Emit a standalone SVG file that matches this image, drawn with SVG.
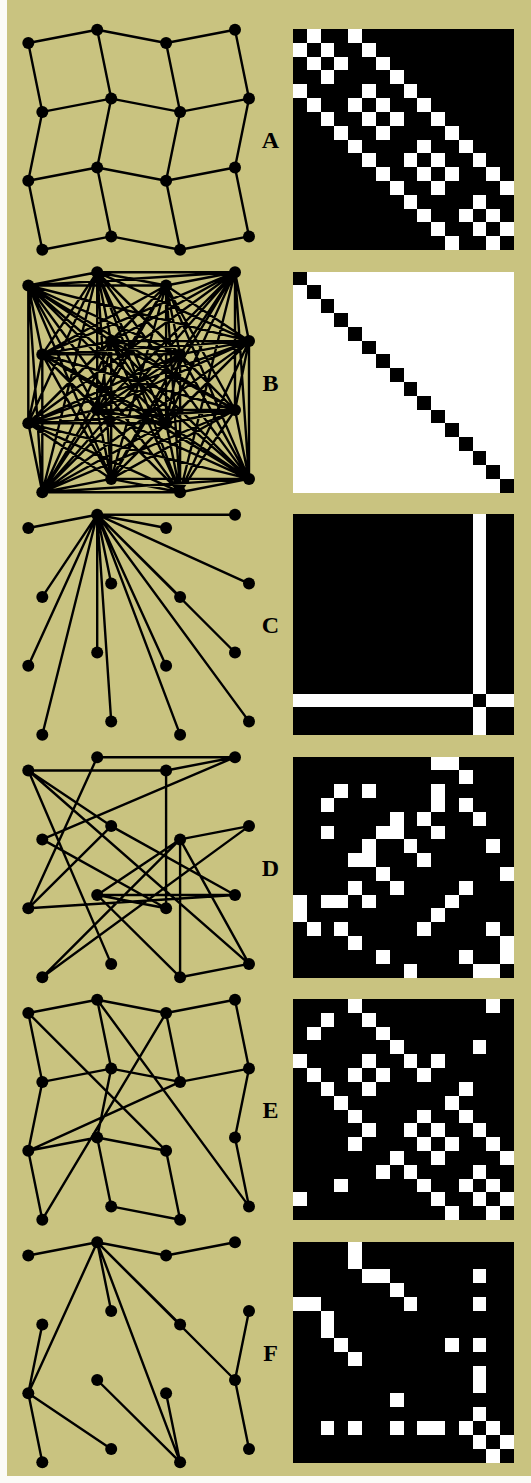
<svg xmlns="http://www.w3.org/2000/svg" width="531" height="1483" viewBox="0 0 531 1483">
  <style>
    .edge { fill: none; stroke: #000; stroke-width: 2.4; stroke-linecap: round; stroke-linejoin: round; }
    .node circle { fill: #000; }
    .label { font-family: "Liberation Serif", "Times New Roman", serif; font-weight: bold; font-size: 24px; fill: #000; text-anchor: middle; }
    .cells rect { shape-rendering: crispEdges; }
  </style>

  <!-- page background with a light margin on the left and bottom -->
  <rect x="0" y="0" width="531" height="1483" fill="#fbfbf7"/>
  <rect x="7" y="0" width="524" height="1476" fill="#c9c380"/>

  <!-- ===== Panel A: 4x4 grid ===== -->
  <g id="panelA">
    <g id="A-edges" class="edge">
      <path d="M28.3,43L97.2,29.7L166.1,43L235,29.7 M42.3,111.9L111.2,98.6L180.1,111.9L249,98.6 M28.3,180.8L97.2,167.5L166.1,180.8L235,167.5 M42.3,249.7L111.2,236.4L180.1,249.7L249,236.4 M28.3,43L42.3,111.9L28.3,180.8L42.3,249.7 M97.2,29.7L111.2,98.6L97.2,167.5L111.2,236.4 M166.1,43L180.1,111.9L166.1,180.8L180.1,249.7 M235,29.7L249,98.6L235,167.5L249,236.4"/>
    </g>
    <g id="A-nodes" class="node">
      <g id="A-n0"><circle cx="28.3" cy="43" r="6"/></g>
      <g id="A-n1"><circle cx="97.2" cy="29.7" r="6"/></g>
      <g id="A-n2"><circle cx="166.1" cy="43" r="6"/></g>
      <g id="A-n3"><circle cx="235" cy="29.7" r="6"/></g>
      <g id="A-n4"><circle cx="42.3" cy="111.9" r="6"/></g>
      <g id="A-n5"><circle cx="111.2" cy="98.6" r="6"/></g>
      <g id="A-n6"><circle cx="180.1" cy="111.9" r="6"/></g>
      <g id="A-n7"><circle cx="249" cy="98.6" r="6"/></g>
      <g id="A-n8"><circle cx="28.3" cy="180.8" r="6"/></g>
      <g id="A-n9"><circle cx="97.2" cy="167.5" r="6"/></g>
      <g id="A-n10"><circle cx="166.1" cy="180.8" r="6"/></g>
      <g id="A-n11"><circle cx="235" cy="167.5" r="6"/></g>
      <g id="A-n12"><circle cx="42.3" cy="249.7" r="6"/></g>
      <g id="A-n13"><circle cx="111.2" cy="236.4" r="6"/></g>
      <g id="A-n14"><circle cx="180.1" cy="249.7" r="6"/></g>
      <g id="A-n15"><circle cx="249" cy="236.4" r="6"/></g>
    </g>
    <text class="label" x="270.5" y="148">A</text>
    <g id="A-matrix" class="cells" transform="translate(293,29) scale(13.8125)">
      <rect width="16" height="16" fill="#000"/>
      <g fill="#fff">
        <rect x="1" y="0" width="1" height="1"/><rect x="4" y="0" width="1" height="1"/>
        <rect x="0" y="1" width="1" height="1"/><rect x="2" y="1" width="1" height="1"/><rect x="5" y="1" width="1" height="1"/>
        <rect x="1" y="2" width="1" height="1"/><rect x="3" y="2" width="1" height="1"/><rect x="6" y="2" width="1" height="1"/>
        <rect x="2" y="3" width="1" height="1"/><rect x="7" y="3" width="1" height="1"/>
        <rect x="0" y="4" width="1" height="1"/><rect x="5" y="4" width="1" height="1"/><rect x="8" y="4" width="1" height="1"/>
        <rect x="1" y="5" width="1" height="1"/><rect x="4" y="5" width="1" height="1"/><rect x="6" y="5" width="1" height="1"/><rect x="9" y="5" width="1" height="1"/>
        <rect x="2" y="6" width="1" height="1"/><rect x="5" y="6" width="1" height="1"/><rect x="7" y="6" width="1" height="1"/><rect x="10" y="6" width="1" height="1"/>
        <rect x="3" y="7" width="1" height="1"/><rect x="6" y="7" width="1" height="1"/><rect x="11" y="7" width="1" height="1"/>
        <rect x="4" y="8" width="1" height="1"/><rect x="9" y="8" width="1" height="1"/><rect x="12" y="8" width="1" height="1"/>
        <rect x="5" y="9" width="1" height="1"/><rect x="8" y="9" width="1" height="1"/><rect x="10" y="9" width="1" height="1"/><rect x="13" y="9" width="1" height="1"/>
        <rect x="6" y="10" width="1" height="1"/><rect x="9" y="10" width="1" height="1"/><rect x="11" y="10" width="1" height="1"/><rect x="14" y="10" width="1" height="1"/>
        <rect x="7" y="11" width="1" height="1"/><rect x="10" y="11" width="1" height="1"/><rect x="15" y="11" width="1" height="1"/>
        <rect x="8" y="12" width="1" height="1"/><rect x="13" y="12" width="1" height="1"/>
        <rect x="9" y="13" width="1" height="1"/><rect x="12" y="13" width="1" height="1"/><rect x="14" y="13" width="1" height="1"/>
        <rect x="10" y="14" width="1" height="1"/><rect x="13" y="14" width="1" height="1"/><rect x="15" y="14" width="1" height="1"/>
        <rect x="11" y="15" width="1" height="1"/><rect x="14" y="15" width="1" height="1"/>
      </g>
    </g>
  </g>

  <!-- ===== Panel B: complete graph ===== -->
  <g id="panelB" transform="translate(0,242.5)">
    <g id="B-edges" class="edge">
      <path d="M28.3,43L97.2,29.7M28.3,43L166.1,43M28.3,43L235,29.7M28.3,43L42.3,111.9M28.3,43L111.2,98.6M28.3,43L180.1,111.9M28.3,43L249,98.6M28.3,43L28.3,180.8M28.3,43L97.2,167.5M28.3,43L166.1,180.8M28.3,43L235,167.5M28.3,43L42.3,249.7M28.3,43L111.2,236.4M28.3,43L180.1,249.7M28.3,43L249,236.4
M97.2,29.7L166.1,43M97.2,29.7L235,29.7M97.2,29.7L42.3,111.9M97.2,29.7L111.2,98.6M97.2,29.7L180.1,111.9M97.2,29.7L249,98.6M97.2,29.7L28.3,180.8M97.2,29.7L97.2,167.5M97.2,29.7L166.1,180.8M97.2,29.7L235,167.5M97.2,29.7L42.3,249.7M97.2,29.7L111.2,236.4M97.2,29.7L180.1,249.7M97.2,29.7L249,236.4
M166.1,43L235,29.7M166.1,43L42.3,111.9M166.1,43L111.2,98.6M166.1,43L180.1,111.9M166.1,43L249,98.6M166.1,43L28.3,180.8M166.1,43L97.2,167.5M166.1,43L166.1,180.8M166.1,43L235,167.5M166.1,43L42.3,249.7M166.1,43L111.2,236.4M166.1,43L180.1,249.7M166.1,43L249,236.4
M235,29.7L42.3,111.9M235,29.7L111.2,98.6M235,29.7L180.1,111.9M235,29.7L249,98.6M235,29.7L28.3,180.8M235,29.7L97.2,167.5M235,29.7L166.1,180.8M235,29.7L235,167.5M235,29.7L42.3,249.7M235,29.7L111.2,236.4M235,29.7L180.1,249.7M235,29.7L249,236.4
M42.3,111.9L111.2,98.6M42.3,111.9L180.1,111.9M42.3,111.9L249,98.6M42.3,111.9L28.3,180.8M42.3,111.9L97.2,167.5M42.3,111.9L166.1,180.8M42.3,111.9L235,167.5M42.3,111.9L42.3,249.7M42.3,111.9L111.2,236.4M42.3,111.9L180.1,249.7M42.3,111.9L249,236.4
M111.2,98.6L180.1,111.9M111.2,98.6L249,98.6M111.2,98.6L28.3,180.8M111.2,98.6L97.2,167.5M111.2,98.6L166.1,180.8M111.2,98.6L235,167.5M111.2,98.6L42.3,249.7M111.2,98.6L111.2,236.4M111.2,98.6L180.1,249.7M111.2,98.6L249,236.4
M180.1,111.9L249,98.6M180.1,111.9L28.3,180.8M180.1,111.9L97.2,167.5M180.1,111.9L166.1,180.8M180.1,111.9L235,167.5M180.1,111.9L42.3,249.7M180.1,111.9L111.2,236.4M180.1,111.9L180.1,249.7M180.1,111.9L249,236.4
M249,98.6L28.3,180.8M249,98.6L97.2,167.5M249,98.6L166.1,180.8M249,98.6L235,167.5M249,98.6L42.3,249.7M249,98.6L111.2,236.4M249,98.6L180.1,249.7M249,98.6L249,236.4
M28.3,180.8L97.2,167.5M28.3,180.8L166.1,180.8M28.3,180.8L235,167.5M28.3,180.8L42.3,249.7M28.3,180.8L111.2,236.4M28.3,180.8L180.1,249.7M28.3,180.8L249,236.4
M97.2,167.5L166.1,180.8M97.2,167.5L235,167.5M97.2,167.5L42.3,249.7M97.2,167.5L111.2,236.4M97.2,167.5L180.1,249.7M97.2,167.5L249,236.4
M166.1,180.8L235,167.5M166.1,180.8L42.3,249.7M166.1,180.8L111.2,236.4M166.1,180.8L180.1,249.7M166.1,180.8L249,236.4
M235,167.5L42.3,249.7M235,167.5L111.2,236.4M235,167.5L180.1,249.7M235,167.5L249,236.4
M42.3,249.7L111.2,236.4M42.3,249.7L180.1,249.7M42.3,249.7L249,236.4
M111.2,236.4L180.1,249.7M111.2,236.4L249,236.4
M180.1,249.7L249,236.4"/>
    </g>
    <g id="B-nodes" class="node">
      <g id="B-n0"><circle cx="28.3" cy="43" r="6"/></g>
      <g id="B-n1"><circle cx="97.2" cy="29.7" r="6"/></g>
      <g id="B-n2"><circle cx="166.1" cy="43" r="6"/></g>
      <g id="B-n3"><circle cx="235" cy="29.7" r="6"/></g>
      <g id="B-n4"><circle cx="42.3" cy="111.9" r="6"/></g>
      <g id="B-n5"><circle cx="111.2" cy="98.6" r="6"/></g>
      <g id="B-n6"><circle cx="180.1" cy="111.9" r="6"/></g>
      <g id="B-n7"><circle cx="249" cy="98.6" r="6"/></g>
      <g id="B-n8"><circle cx="28.3" cy="180.8" r="6"/></g>
      <g id="B-n9"><circle cx="97.2" cy="167.5" r="6"/></g>
      <g id="B-n10"><circle cx="166.1" cy="180.8" r="6"/></g>
      <g id="B-n11"><circle cx="235" cy="167.5" r="6"/></g>
      <g id="B-n12"><circle cx="42.3" cy="249.7" r="6"/></g>
      <g id="B-n13"><circle cx="111.2" cy="236.4" r="6"/></g>
      <g id="B-n14"><circle cx="180.1" cy="249.7" r="6"/></g>
      <g id="B-n15"><circle cx="249" cy="236.4" r="6"/></g>
    </g>
    <text class="label" x="270.5" y="148">B</text>
    <g id="B-matrix" class="cells" transform="translate(293,29) scale(13.8125)">
      <rect width="16" height="16" fill="#fff"/>
      <g fill="#000">
        <rect x="0" y="0" width="1" height="1"/><rect x="1" y="1" width="1" height="1"/><rect x="2" y="2" width="1" height="1"/><rect x="3" y="3" width="1" height="1"/>
        <rect x="4" y="4" width="1" height="1"/><rect x="5" y="5" width="1" height="1"/><rect x="6" y="6" width="1" height="1"/><rect x="7" y="7" width="1" height="1"/>
        <rect x="8" y="8" width="1" height="1"/><rect x="9" y="9" width="1" height="1"/><rect x="10" y="10" width="1" height="1"/><rect x="11" y="11" width="1" height="1"/>
        <rect x="12" y="12" width="1" height="1"/><rect x="13" y="13" width="1" height="1"/><rect x="14" y="14" width="1" height="1"/><rect x="15" y="15" width="1" height="1"/>
      </g>
    </g>
  </g>

  <!-- ===== Panel C: star ===== -->
  <g id="panelC" transform="translate(0,485)">
    <g id="C-edges" class="edge">
      <path d="M97.2,29.7L28.3,43M97.2,29.7L166.1,43M97.2,29.7L235,29.7M97.2,29.7L42.3,111.9M97.2,29.7L111.2,98.6M97.2,29.7L180.1,111.9M97.2,29.7L249,98.6M97.2,29.7L28.3,180.8M97.2,29.7L97.2,167.5M97.2,29.7L166.1,180.8M97.2,29.7L235,167.5M97.2,29.7L42.3,249.7M97.2,29.7L111.2,236.4M97.2,29.7L180.1,249.7M97.2,29.7L249,236.4"/>
    </g>
    <g id="C-nodes" class="node">
      <g id="C-n0"><circle cx="28.3" cy="43" r="6"/></g>
      <g id="C-n1"><circle cx="97.2" cy="29.7" r="6"/></g>
      <g id="C-n2"><circle cx="166.1" cy="43" r="6"/></g>
      <g id="C-n3"><circle cx="235" cy="29.7" r="6"/></g>
      <g id="C-n4"><circle cx="42.3" cy="111.9" r="6"/></g>
      <g id="C-n5"><circle cx="111.2" cy="98.6" r="6"/></g>
      <g id="C-n6"><circle cx="180.1" cy="111.9" r="6"/></g>
      <g id="C-n7"><circle cx="249" cy="98.6" r="6"/></g>
      <g id="C-n8"><circle cx="28.3" cy="180.8" r="6"/></g>
      <g id="C-n9"><circle cx="97.2" cy="167.5" r="6"/></g>
      <g id="C-n10"><circle cx="166.1" cy="180.8" r="6"/></g>
      <g id="C-n11"><circle cx="235" cy="167.5" r="6"/></g>
      <g id="C-n12"><circle cx="42.3" cy="249.7" r="6"/></g>
      <g id="C-n13"><circle cx="111.2" cy="236.4" r="6"/></g>
      <g id="C-n14"><circle cx="180.1" cy="249.7" r="6"/></g>
      <g id="C-n15"><circle cx="249" cy="236.4" r="6"/></g>
    </g>
    <text class="label" x="270.5" y="148">C</text>
    <g id="C-matrix" class="cells" transform="translate(293,29) scale(13.8125)">
      <rect width="16" height="16" fill="#000"/>
      <g fill="#fff">
        <rect x="13" y="0" width="1" height="13"/><rect x="13" y="14" width="1" height="2"/>
        <rect x="0" y="13" width="13" height="1"/><rect x="14" y="13" width="2" height="1"/>
      </g>
    </g>
  </g>

  <!-- ===== Panel D ===== -->
  <g id="panelD" transform="translate(0,727.5)">
    <g id="D-edges" class="edge">
      <path d="M97.2,29.7L235,29.7M28.3,43L166.1,43M166.1,43L235,29.7M235,29.7L42.3,111.9M166.1,43L166.1,180.8M97.2,29.7L28.3,180.8M28.3,43L111.2,236.4M28.3,43L111.2,98.6M111.2,98.6L235,167.5M28.3,43L249,236.4M42.3,111.9L166.1,180.8M111.2,98.6L28.3,180.8M180.1,111.9L249,98.6M180.1,111.9L97.2,167.5M180.1,111.9L42.3,249.7M180.1,111.9L180.1,249.7M180.1,111.9L249,236.4M249,98.6L42.3,249.7M28.3,180.8L235,167.5M97.2,167.5L166.1,180.8M97.2,167.5L235,167.5M97.2,167.5L180.1,249.7M180.1,249.7L249,236.4"/>
    </g>
    <g id="D-nodes" class="node">
      <g id="D-n0"><circle cx="28.3" cy="43" r="6"/></g>
      <g id="D-n1"><circle cx="97.2" cy="29.7" r="6"/></g>
      <g id="D-n2"><circle cx="166.1" cy="43" r="6"/></g>
      <g id="D-n3"><circle cx="235" cy="29.7" r="6"/></g>
      <g id="D-n4"><circle cx="42.3" cy="111.9" r="6"/></g>
      <g id="D-n5"><circle cx="111.2" cy="98.6" r="6"/></g>
      <g id="D-n6"><circle cx="180.1" cy="111.9" r="6"/></g>
      <g id="D-n7"><circle cx="249" cy="98.6" r="6"/></g>
      <g id="D-n8"><circle cx="28.3" cy="180.8" r="6"/></g>
      <g id="D-n9"><circle cx="97.2" cy="167.5" r="6"/></g>
      <g id="D-n10"><circle cx="166.1" cy="180.8" r="6"/></g>
      <g id="D-n11"><circle cx="235" cy="167.5" r="6"/></g>
      <g id="D-n12"><circle cx="42.3" cy="249.7" r="6"/></g>
      <g id="D-n13"><circle cx="111.2" cy="236.4" r="6"/></g>
      <g id="D-n14"><circle cx="180.1" cy="249.7" r="6"/></g>
      <g id="D-n15"><circle cx="249" cy="236.4" r="6"/></g>
    </g>
    <text class="label" x="270.5" y="148">D</text>
    <g id="D-matrix" class="cells" transform="translate(293,29) scale(13.8125)">
      <rect width="16" height="16" fill="#000"/>
      <g fill="#fff">
        <rect x="10" y="0" width="2" height="1"/>
        <rect x="12" y="1" width="1" height="1"/>
        <rect x="3" y="2" width="1" height="1"/><rect x="5" y="2" width="1" height="1"/><rect x="10" y="2" width="1" height="1"/>
        <rect x="2" y="3" width="1" height="1"/><rect x="10" y="3" width="1" height="1"/><rect x="12" y="3" width="1" height="1"/>
        <rect x="7" y="4" width="1" height="1"/><rect x="9" y="4" width="1" height="1"/><rect x="13" y="4" width="1" height="1"/>
        <rect x="2" y="5" width="1" height="1"/><rect x="6" y="5" width="2" height="1"/><rect x="10" y="5" width="1" height="1"/>
        <rect x="5" y="6" width="1" height="1"/><rect x="8" y="6" width="1" height="1"/><rect x="14" y="6" width="1" height="1"/>
        <rect x="4" y="7" width="2" height="1"/><rect x="9" y="7" width="1" height="1"/>
        <rect x="6" y="8" width="1" height="1"/><rect x="15" y="8" width="1" height="1"/>
        <rect x="4" y="9" width="1" height="1"/><rect x="7" y="9" width="1" height="1"/><rect x="12" y="9" width="1" height="1"/>
        <rect x="0" y="10" width="1" height="1"/><rect x="2" y="10" width="2" height="1"/><rect x="5" y="10" width="1" height="1"/><rect x="11" y="10" width="1" height="1"/>
        <rect x="0" y="11" width="1" height="1"/><rect x="10" y="11" width="1" height="1"/>
        <rect x="1" y="12" width="1" height="1"/><rect x="3" y="12" width="1" height="1"/><rect x="9" y="12" width="1" height="1"/><rect x="14" y="12" width="1" height="1"/>
        <rect x="4" y="13" width="1" height="1"/><rect x="15" y="13" width="1" height="1"/>
        <rect x="6" y="14" width="1" height="1"/><rect x="12" y="14" width="1" height="1"/><rect x="15" y="14" width="1" height="1"/>
        <rect x="8" y="15" width="1" height="1"/><rect x="13" y="15" width="2" height="1"/>
      </g>
    </g>
  </g>

  <!-- ===== Panel E ===== -->
  <g id="panelE" transform="translate(0,970)">
    <g id="E-edges" class="edge">
      <path d="M28.3,43L97.2,29.7L166.1,43L235,29.7M28.3,43L42.3,111.9M28.3,43L166.1,180.8M97.2,29.7L111.2,98.6M97.2,29.7L249,236.4M166.1,43L180.1,111.9M166.1,43L42.3,249.7M235,29.7L249,98.6M42.3,111.9L111.2,98.6L180.1,111.9L249,98.6M42.3,111.9L28.3,180.8M111.2,98.6L97.2,167.5M180.1,111.9L28.3,180.8M249,98.6L235,167.5M28.3,180.8L97.2,167.5L166.1,180.8M28.3,180.8L42.3,249.7M97.2,167.5L111.2,236.4M166.1,180.8L180.1,249.7M111.2,236.4L180.1,249.7M235,167.5L249,236.4"/>
    </g>
    <g id="E-nodes" class="node">
      <g id="E-n0"><circle cx="28.3" cy="43" r="6"/></g>
      <g id="E-n1"><circle cx="97.2" cy="29.7" r="6"/></g>
      <g id="E-n2"><circle cx="166.1" cy="43" r="6"/></g>
      <g id="E-n3"><circle cx="235" cy="29.7" r="6"/></g>
      <g id="E-n4"><circle cx="42.3" cy="111.9" r="6"/></g>
      <g id="E-n5"><circle cx="111.2" cy="98.6" r="6"/></g>
      <g id="E-n6"><circle cx="180.1" cy="111.9" r="6"/></g>
      <g id="E-n7"><circle cx="249" cy="98.6" r="6"/></g>
      <g id="E-n8"><circle cx="28.3" cy="180.8" r="6"/></g>
      <g id="E-n9"><circle cx="97.2" cy="167.5" r="6"/></g>
      <g id="E-n10"><circle cx="166.1" cy="180.8" r="6"/></g>
      <g id="E-n11"><circle cx="235" cy="167.5" r="6"/></g>
      <g id="E-n12"><circle cx="42.3" cy="249.7" r="6"/></g>
      <g id="E-n13"><circle cx="111.2" cy="236.4" r="6"/></g>
      <g id="E-n14"><circle cx="180.1" cy="249.7" r="6"/></g>
      <g id="E-n15"><circle cx="249" cy="236.4" r="6"/></g>
    </g>
    <text class="label" x="270.5" y="148">E</text>
    <g id="E-matrix" class="cells" transform="translate(293,29) scale(13.8125)">
      <rect width="16" height="16" fill="#000"/>
      <g fill="#fff">
        <rect x="4" y="0" width="1" height="1"/><rect x="14" y="0" width="1" height="1"/>
        <rect x="2" y="1" width="1" height="1"/><rect x="5" y="1" width="1" height="1"/>
        <rect x="1" y="2" width="1" height="1"/><rect x="6" y="2" width="1" height="1"/>
        <rect x="7" y="3" width="1" height="1"/><rect x="13" y="3" width="1" height="1"/>
        <rect x="0" y="4" width="1" height="1"/><rect x="5" y="4" width="1" height="1"/><rect x="8" y="4" width="1" height="1"/><rect x="10" y="4" width="1" height="1"/>
        <rect x="1" y="5" width="1" height="1"/><rect x="4" y="5" width="1" height="1"/><rect x="6" y="5" width="1" height="1"/><rect x="9" y="5" width="1" height="1"/>
        <rect x="2" y="6" width="1" height="1"/><rect x="5" y="6" width="1" height="1"/><rect x="12" y="6" width="1" height="1"/>
        <rect x="3" y="7" width="1" height="1"/><rect x="11" y="7" width="1" height="1"/>
        <rect x="4" y="8" width="1" height="1"/><rect x="9" y="8" width="1" height="1"/><rect x="12" y="8" width="1" height="1"/>
        <rect x="5" y="9" width="1" height="1"/><rect x="8" y="9" width="1" height="1"/><rect x="10" y="9" width="1" height="1"/><rect x="13" y="9" width="1" height="1"/>
        <rect x="4" y="10" width="1" height="1"/><rect x="9" y="10" width="1" height="1"/><rect x="11" y="10" width="1" height="1"/><rect x="14" y="10" width="1" height="1"/>
        <rect x="7" y="11" width="1" height="1"/><rect x="10" y="11" width="1" height="1"/><rect x="15" y="11" width="1" height="1"/>
        <rect x="6" y="12" width="1" height="1"/><rect x="8" y="12" width="1" height="1"/><rect x="13" y="12" width="1" height="1"/>
        <rect x="3" y="13" width="1" height="1"/><rect x="9" y="13" width="1" height="1"/><rect x="12" y="13" width="1" height="1"/><rect x="14" y="13" width="1" height="1"/>
        <rect x="0" y="14" width="1" height="1"/><rect x="10" y="14" width="1" height="1"/><rect x="13" y="14" width="1" height="1"/><rect x="15" y="14" width="1" height="1"/>
        <rect x="11" y="15" width="1" height="1"/><rect x="14" y="15" width="1" height="1"/>
      </g>
    </g>
  </g>

  <!-- ===== Panel F: tree ===== -->
  <g id="panelF" transform="translate(0,1212.5)">
    <g id="F-edges" class="edge">
      <path d="M28.3,43L97.2,29.7L166.1,43L235,29.7M97.2,29.7L28.3,180.8M97.2,29.7L111.2,98.6M97.2,29.7L180.1,249.7M97.2,29.7L180.1,111.9M97.2,29.7L235,167.5M42.3,111.9L28.3,180.8M249,98.6L235,167.5L249,236.4M28.3,180.8L42.3,249.7M28.3,180.8L111.2,236.4M97.2,167.5L180.1,249.7M166.1,180.8L180.1,249.7"/>
    </g>
    <g id="F-nodes" class="node">
      <g id="F-n0"><circle cx="28.3" cy="43" r="6"/></g>
      <g id="F-n1"><circle cx="97.2" cy="29.7" r="6"/></g>
      <g id="F-n2"><circle cx="166.1" cy="43" r="6"/></g>
      <g id="F-n3"><circle cx="235" cy="29.7" r="6"/></g>
      <g id="F-n4"><circle cx="42.3" cy="111.9" r="6"/></g>
      <g id="F-n5"><circle cx="111.2" cy="98.6" r="6"/></g>
      <g id="F-n6"><circle cx="180.1" cy="111.9" r="6"/></g>
      <g id="F-n7"><circle cx="249" cy="98.6" r="6"/></g>
      <g id="F-n8"><circle cx="28.3" cy="180.8" r="6"/></g>
      <g id="F-n9"><circle cx="97.2" cy="167.5" r="6"/></g>
      <g id="F-n10"><circle cx="166.1" cy="180.8" r="6"/></g>
      <g id="F-n11"><circle cx="235" cy="167.5" r="6"/></g>
      <g id="F-n12"><circle cx="42.3" cy="249.7" r="6"/></g>
      <g id="F-n13"><circle cx="111.2" cy="236.4" r="6"/></g>
      <g id="F-n14"><circle cx="180.1" cy="249.7" r="6"/></g>
      <g id="F-n15"><circle cx="249" cy="236.4" r="6"/></g>
    </g>
    <text class="label" x="270.5" y="148">F</text>
    <g id="F-matrix" class="cells" transform="translate(293,29) scale(13.8125)">
      <rect width="16" height="16" fill="#000"/>
      <g fill="#fff">
        <rect x="4" y="0" width="1" height="2"/>
        <rect x="5" y="2" width="2" height="1"/><rect x="13" y="2" width="1" height="1"/>
        <rect x="7" y="3" width="1" height="1"/>
        <rect x="0" y="4" width="2" height="1"/><rect x="8" y="4" width="1" height="1"/><rect x="13" y="4" width="1" height="1"/>
        <rect x="2" y="5" width="1" height="2"/>
        <rect x="3" y="7" width="1" height="1"/><rect x="11" y="7" width="1" height="1"/><rect x="13" y="7" width="1" height="1"/>
        <rect x="4" y="8" width="1" height="1"/>
        <rect x="13" y="9" width="1" height="2"/>
        <rect x="7" y="11" width="1" height="1"/>
        <rect x="13" y="12" width="1" height="1"/>
        <rect x="2" y="13" width="1" height="1"/><rect x="4" y="13" width="1" height="1"/><rect x="7" y="13" width="1" height="1"/><rect x="9" y="13" width="2" height="1"/><rect x="12" y="13" width="1" height="1"/><rect x="14" y="13" width="1" height="1"/>
        <rect x="13" y="14" width="1" height="1"/><rect x="15" y="14" width="1" height="1"/>
        <rect x="14" y="15" width="1" height="1"/>
      </g>
    </g>
  </g>
</svg>
